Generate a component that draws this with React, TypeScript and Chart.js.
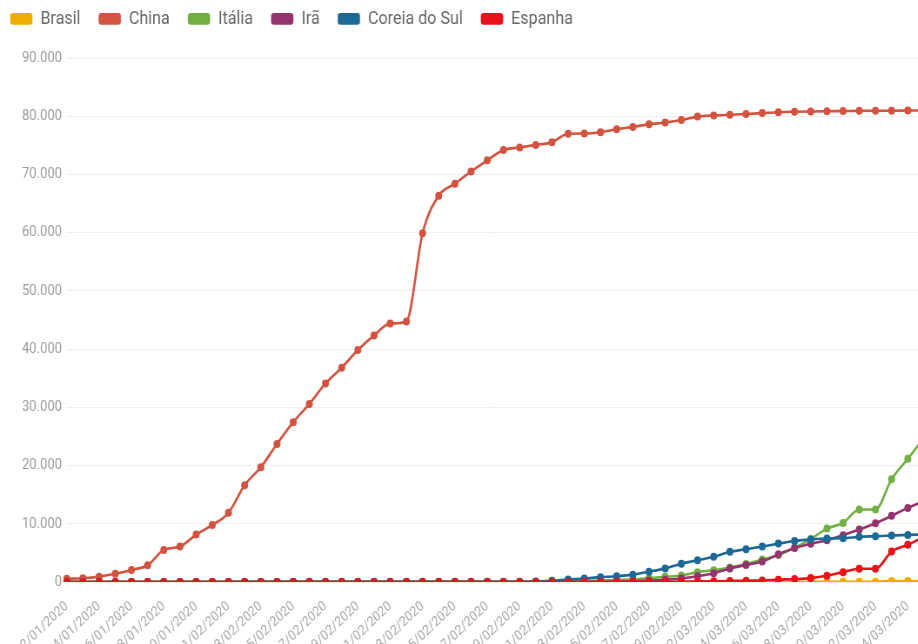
import React, { useEffect, useRef } from 'react';
import { Chart, registerables } from 'chart.js';

Chart.register(...registerables);

const dates = [
  '22/01/2020', '23/01/2020', '24/01/2020', '25/01/2020', '26/01/2020', '27/01/2020', '28/01/2020', '29/01/2020', '30/01/2020', '31/01/2020',
  '01/02/2020', '02/02/2020', '03/02/2020', '04/02/2020', '05/02/2020', '06/02/2020', '07/02/2020', '08/02/2020', '09/02/2020', '10/02/2020',
  '11/02/2020', '12/02/2020', '13/02/2020', '14/02/2020', '15/02/2020', '16/02/2020', '17/02/2020', '18/02/2020', '19/02/2020', '20/02/2020',
  '21/02/2020', '22/02/2020', '23/02/2020', '24/02/2020', '25/02/2020', '26/02/2020', '27/02/2020', '28/02/2020', '29/02/2020',
  '01/03/2020', '02/03/2020', '03/03/2020', '04/03/2020', '05/03/2020', '06/03/2020', '07/03/2020', '08/03/2020', '09/03/2020', '10/03/2020',
  '11/03/2020', '12/03/2020', '13/03/2020', '14/03/2020', '15/03/2020',
];

const brasil = [
  0, 0, 0, 0, 0, 0, 0, 0, 0, 0,
  0, 0, 0, 0, 0, 0, 0, 0, 0, 0,
  0, 0, 0, 0, 0, 0, 0, 0, 0, 0,
  0, 0, 0, 0, 0, 1, 1, 1, 2,
  2, 2, 2, 4, 4, 13, 13, 20, 25, 31,
  38, 52, 151, 151, 162,
];

const china = [
  548, 643, 920, 1406, 2075, 2877, 5509, 6087, 8141, 9802,
  11891, 16630, 19716, 23707, 27440, 30587, 34110, 36814, 39829, 42354,
  44386, 44759, 59895, 66358, 68413, 70513, 72434, 74211, 74619, 75077,
  75550, 77001, 77022, 77241, 77754, 78166, 78600, 78928, 79356,
  79932, 80136, 80261, 80386, 80537, 80690, 80770, 80823, 80860, 80887,
  80921, 80932, 80945, 80977, 81003,
];

const italia = [
  0, 0, 0, 0, 0, 0, 0, 0, 0, 2,
  2, 2, 2, 2, 2, 2, 3, 3, 3, 3,
  3, 3, 3, 3, 3, 3, 3, 3, 3, 3,
  20, 62, 155, 229, 322, 453, 655, 888, 1128,
  1694, 2036, 2502, 3089, 3858, 4636, 5883, 7375, 9172, 10149,
  12462, 12462, 17660, 21157, 24747,
];

const ira = [
  0, 0, 0, 0, 0, 0, 0, 0, 0, 0,
  0, 0, 0, 0, 0, 0, 0, 0, 0, 0,
  0, 0, 0, 0, 0, 0, 0, 0, 2, 5,
  18, 28, 43, 61, 95, 139, 245, 388, 593,
  978, 1501, 2336, 2922, 3513, 4747, 5823, 6566, 7161, 8042,
  9000, 10075, 11364, 12729, 13938,
];

const coreiaDoSul = [
  1, 1, 2, 2, 3, 4, 4, 4, 4, 11,
  12, 15, 15, 16, 19, 23, 24, 24, 25, 27,
  28, 28, 28, 28, 28, 29, 30, 31, 31, 104,
  204, 433, 602, 833, 977, 1261, 1766, 2337, 3150,
  3736, 4335, 5186, 5621, 6088, 6593, 7041, 7314, 7478, 7513,
  7755, 7869, 7979, 8086, 8162,
];

const espanha = [
  0, 0, 0, 0, 0, 0, 0, 0, 0, 0,
  1, 1, 1, 1, 1, 1, 1, 1, 2, 2,
  2, 2, 2, 2, 2, 2, 2, 2, 2, 2,
  2, 2, 2, 2, 6, 13, 15, 32, 45,
  84, 120, 165, 222, 259, 400, 500, 673, 1073, 1695,
  2277, 2277, 5232, 6391, 7798,
];

const seriesNames = ['Brasil', 'China', 'Itália', 'Irã', 'Coreia do Sul', 'Espanha'];
const seriesColors = ['#F0AB00', '#D2533F', '#72B043', '#93346E', '#1D6996', '#E8131A'];
const seriesOrder = [5, 4, 3, 2, 1, 0];

const yTicks = [0, 10000, 20000, 30000, 40000, 50000, 60000, 70000, 80000, 90000];

const SCALE_X = 0.87;
const CANVAS_W = 1102;
const CANVAS_H = 662;

function fmt(v: number): string {
  return String(Math.round(v)).replace(/\B(?=(\d{3})+(?!\d))/g, '.');
}

export default function App() {
  const ref = useRef<HTMLCanvasElement | null>(null);

  useEffect(() => {
    if (!ref.current) return;
    const allData = [brasil, china, italia, ira, coreiaDoSul, espanha];

    const legendHeight = {
      id: 'legendHeight',
      beforeInit(chart: any) {
        const legend = chart.legend;
        if (!legend) return;
        const orig = legend.fit;
        legend.fit = function () {
          orig.call(this);
          this.height = 69;
        };
      },
    };

    const chart = new Chart(ref.current, {
      type: 'line',
      data: {
        labels: dates,
        datasets: seriesNames.map((name, i) => ({
          label: name,
          data: allData[i],
          borderColor: seriesColors[i],
          backgroundColor: seriesColors[i],
          pointBackgroundColor: seriesColors[i],
          pointBorderColor: seriesColors[i],
          pointBorderWidth: 0,
          pointRadius: 4,
          pointHoverRadius: 4,
          borderWidth: 2.6,
          cubicInterpolationMode: 'monotone' as const,
          fill: false,
          order: seriesOrder[i],
        })),
      },
      options: {
        animation: false,
        responsive: false,
        devicePixelRatio: 1,
        layout: { padding: { left: -9, top: -11, right: 40, bottom: 0 } },
        plugins: {
          tooltip: { enabled: false },
          legend: {
            position: 'top',
            align: 'start',
            labels: {
              boxWidth: 25.6,
              boxHeight: 11.7,
              padding: 20.7,
              useBorderRadius: true,
              borderRadius: 3,
              color: '#666',
              font: { family: 'Roboto', size: 18.5 },
              sort: (a: any, b: any) => a.datasetIndex - b.datasetIndex,
              generateLabels: (c: any) =>
                Chart.defaults.plugins.legend.labels
                  .generateLabels(c)
                  .map((l: any) => ({ ...l, lineWidth: 0 })),
            },
          },
        },
        scales: {
          x: {
            grid: { display: false, drawTicks: true, tickLength: 6 },
            border: { display: false },
            afterFit: (scale: any) => {
              scale.height = 80;
            },
            ticks: {
              autoSkip: false,
              minRotation: 40,
              maxRotation: 40,
              padding: 10,
              color: '#a8a8a8',
              font: { family: 'Roboto', size: 14 },
              callback: (_v: any, i: number) => (i % 2 === 0 ? dates[i] : ''),
            },
          },
          y: {
            min: 0,
            max: 90000,
            afterFit: (scale: any) => {
              scale.width = 85.7;
            },
            afterBuildTicks: (scale: any) => {
              scale.ticks = yTicks.map((v) => ({ value: v }));
            },
            grid: { color: '#efefef', drawTicks: false, lineWidth: 1 },
            border: { display: false },
            ticks: {
              padding: 5.4,
              color: '#9c9c9c',
              font: { family: 'Roboto', size: 15 },
              callback: (v: any) => fmt(Number(v)),
            },
          },
        },
      },
      plugins: [legendHeight],
    } as any);

    return () => chart.destroy();
  }, []);

  return (
    <div
      style={{
        position: 'fixed',
        left: 0,
        top: 0,
        width: 918,
        height: 644,
        overflow: 'hidden',
        background: '#fff',
      }}
    >
      <div
        style={{
          width: CANVAS_W,
          height: CANVAS_H,
          transform: `scaleX(${SCALE_X})`,
          transformOrigin: '0 0',
        }}
      >
        <canvas ref={ref} width={CANVAS_W} height={CANVAS_H} />
      </div>
    </div>
  );
}
